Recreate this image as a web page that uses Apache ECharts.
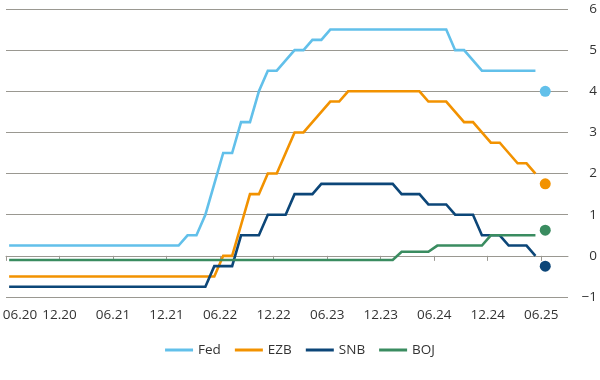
<!DOCTYPE html>
<html>
<head>
<meta charset="utf-8">
<script src="https://cdn.jsdelivr.net/npm/echarts@6/dist/echarts.min.js"></script>
<style>
  html, body { margin: 0; padding: 0; background: #ffffff; }
  #chart { width: 600px; height: 380px; }
</style>
</head>
<body>
<div id="chart"></div>
<script>
// Tick labels (every 6 months, starting June 2020)
var tickLabels = ["06.20","12.20","06.21","12.21","06.22","12.22","06.23","12.23","06.24","12.24","06.25"];
var seriesNames = ["Fed", "EZB", "SNB", "BOJ"];

// Monthly policy rates (%), 60 months
var fed = [
  0.25,0.25,0.25,0.25,0.25,0.25,0.25,0.25,0.25,0.25,
  0.25,0.25,0.25,0.25,0.25,0.25,0.25,0.25,0.25,0.25,
  0.5,0.5,1.0,1.75,2.5,2.5,3.25,3.25,4.0,4.5,
  4.5,4.75,5.0,5.0,5.25,5.25,5.5,5.5,5.5,5.5,
  5.5,5.5,5.5,5.5,5.5,5.5,5.5,5.5,5.5,5.5,
  5.0,5.0,4.75,4.5,4.5,4.5,4.5,4.5,4.5,4.5
];
var ezb = [
  -0.5,-0.5,-0.5,-0.5,-0.5,-0.5,-0.5,-0.5,-0.5,-0.5,
  -0.5,-0.5,-0.5,-0.5,-0.5,-0.5,-0.5,-0.5,-0.5,-0.5,
  -0.5,-0.5,-0.5,-0.5,0,0,0.75,1.5,1.5,2.0,
  2.0,2.5,3.0,3.0,3.25,3.5,3.75,3.75,4.0,4.0,
  4.0,4.0,4.0,4.0,4.0,4.0,4.0,3.75,3.75,3.75,
  3.5,3.25,3.25,3.0,2.75,2.75,2.5,2.25,2.25,2.0
];
var snb = [
  -0.75,-0.75,-0.75,-0.75,-0.75,-0.75,-0.75,-0.75,-0.75,-0.75,
  -0.75,-0.75,-0.75,-0.75,-0.75,-0.75,-0.75,-0.75,-0.75,-0.75,
  -0.75,-0.75,-0.75,-0.25,-0.25,-0.25,0.5,0.5,0.5,1.0,
  1.0,1.0,1.5,1.5,1.5,1.75,1.75,1.75,1.75,1.75,
  1.75,1.75,1.75,1.75,1.5,1.5,1.5,1.25,1.25,1.25,
  1.0,1.0,1.0,0.5,0.5,0.5,0.25,0.25,0.25,0.0
];
var boj = [
  -0.1,-0.1,-0.1,-0.1,-0.1,-0.1,-0.1,-0.1,-0.1,-0.1,
  -0.1,-0.1,-0.1,-0.1,-0.1,-0.1,-0.1,-0.1,-0.1,-0.1,
  -0.1,-0.1,-0.1,-0.1,-0.1,-0.1,-0.1,-0.1,-0.1,-0.1,
  -0.1,-0.1,-0.1,-0.1,-0.1,-0.1,-0.1,-0.1,-0.1,-0.1,
  -0.1,-0.1,-0.1,-0.1,0.1,0.1,0.1,0.1,0.25,0.25,
  0.25,0.25,0.25,0.25,0.5,0.5,0.5,0.5,0.5,0.5
];
// Projected end points (one per bank), plotted one month after the last value
var forecast = [4.0, 1.75, -0.25, 0.625];

var colors = ["#62c0ea", "#f29200", "#0c4678", "#3a8c60"];
var FONT = "Open Sans";
var FS = 13.5;
var OFFSET = 0.35; // points sit within the month

function toPairs(arr) {
  return arr.map(function (v, i) { return [i + OFFSET, v]; });
}

var tickValues = tickLabels.map(function (_, i) { return i * 6; });

var lineSeries = [fed, ezb, snb, boj].map(function (arr, i) {
  return {
    name: seriesNames[i],
    type: 'line',
    data: toPairs(arr),
    symbol: 'none',
    showSymbol: false,
    lineStyle: { color: colors[i], width: 2.6, cap: 'butt', join: 'miter' },
    itemStyle: { color: colors[i] },
    animation: false,
    z: 2 + i
  };
});

var dotSeries = {
  name: 'Prognose',
  type: 'scatter',
  symbol: 'circle',
  symbolSize: 11,
  animation: false,
  z: 10,
  data: forecast.map(function (v, i) {
    return { value: [fed.length + 0.45, v], itemStyle: { color: colors[i], opacity: 1 } };
  })
};

var chart = echarts.init(document.getElementById('chart'), null, { renderer: 'canvas' });
chart.setOption({
  animation: false,
  backgroundColor: '#ffffff',
  color: colors,
  grid: { left: 6, right: 32, top: 9, bottom: 83, containLabel: false, outerBoundsMode: 'none' },
  legend: {
    data: seriesNames,
    left: 'center',
    top: 338,
    icon: 'rect',
    itemWidth: 28,
    itemHeight: 3,
    itemGap: 14,
    textStyle: { fontFamily: FONT, fontSize: FS, color: '#333333' }
  },
  xAxis: {
    type: 'value',
    min: 0,
    max: 63,
    interval: 6,
    axisLine: { show: true, lineStyle: { color: '#9a9891', width: 1 } },
    axisTick: { show: true, length: 5, customValues: tickValues, lineStyle: { color: '#9a9891' } },
    axisLabel: {
      customValues: tickValues,
      margin: 11,
      fontFamily: FONT,
      fontSize: FS,
      color: '#333333',
      rich: {
        first: { fontFamily: FONT, fontSize: FS, color: '#333333', padding: [0, 0, 0, 28] }
      },
      formatter: function (v) {
        var idx = Math.round(v / 6);
        var s = tickLabels[idx] || '';
        return idx === 0 ? '{first|' + s + '}' : s;
      }
    },
    splitLine: { show: false }
  },
  yAxis: {
    type: 'value',
    position: 'right',
    min: -1,
    max: 6,
    interval: 1,
    axisLine: { show: false },
    axisTick: { show: false },
    axisLabel: {
      margin: 29,
      align: 'right',
      fontFamily: FONT,
      fontSize: FS,
      color: '#333333',
      formatter: function (v) { return v < 0 ? '\u2212' + Math.abs(v) : String(v); }
    },
    splitLine: { show: true, lineStyle: { color: '#9a9891', width: 1 } }
  },
  series: lineSeries.concat([dotSeries])
});
</script>
</body>
</html>
